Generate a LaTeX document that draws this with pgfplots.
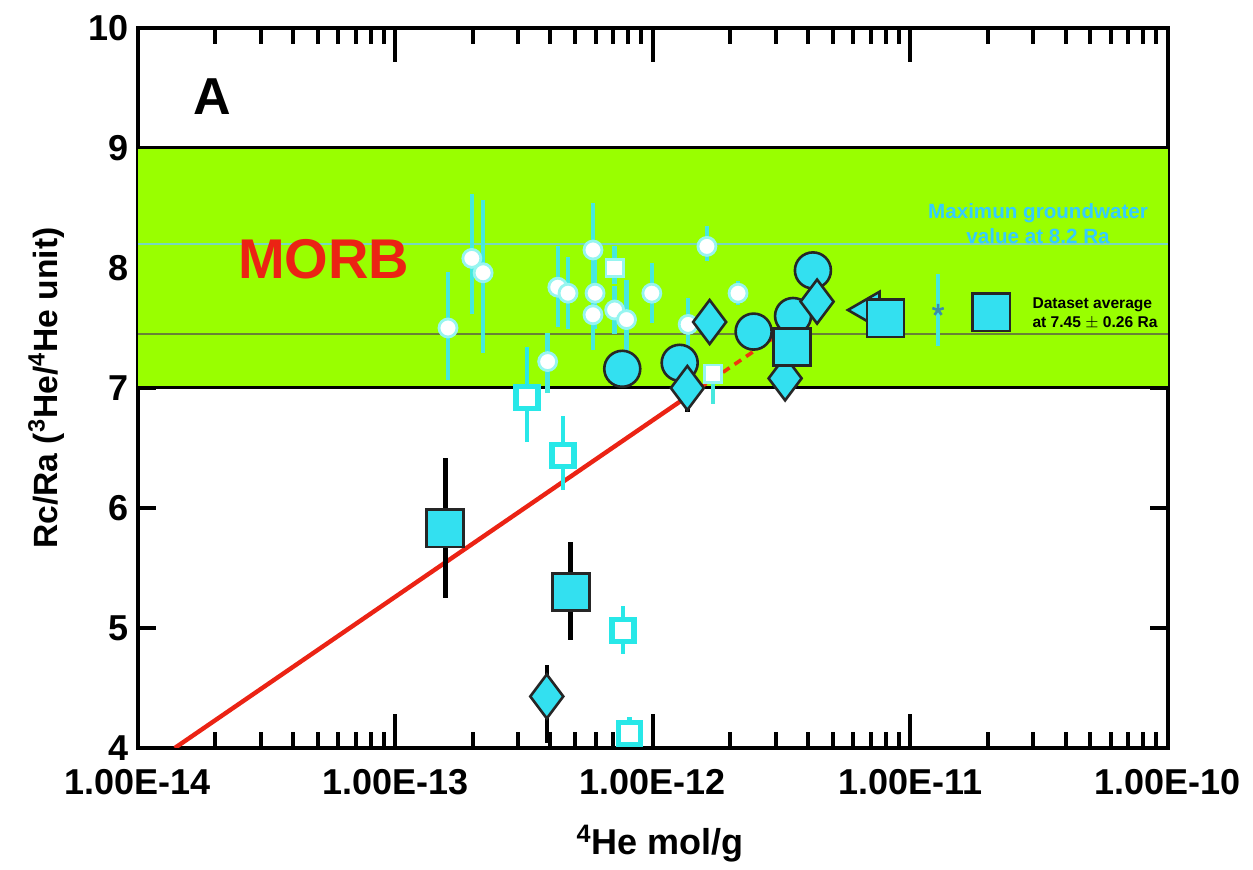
\documentclass[border=0pt]{standalone}
\usepackage{fontspec}
\setmainfont{Liberation Sans}
\usepackage{pgfplots}
\usepackage{pgfplotstable}
\pgfplotsset{compat=1.18}
\definecolor{morbgreen}{RGB}{153,255,0}
\definecolor{bigcyan}{RGB}{51,224,240}
\definecolor{errcyan}{RGB}{70,232,222}
\definecolor{glowcyan}{RGB}{150,245,240}
\definecolor{opencyan}{RGB}{40,232,232}
\definecolor{avgline}{RGB}{105,130,55}
\definecolor{gwline}{RGB}{120,215,190}
\definecolor{gwtext}{RGB}{51,204,255}
\definecolor{morbred}{RGB}{235,35,20}
\definecolor{starblue}{RGB}{60,140,170}

\pgfplotstableread{
x y ep em
1.56e-13 5.83 0.59 0.58
4.8e-13 5.30 0.42 0.40
3.47e-12 7.34 0.10 0.10
8.0e-12 7.58 0.12 0.12
2.06e-11 7.63 0.10 0.10
}\bigsquares
\pgfplotstableread{
x y ep em
7.6e-13 7.16 0.08 0.08
1.27e-12 7.21 0.08 0.08
2.46e-12 7.47 0.05 0.05
3.5e-12 7.60 0.08 0.08
4.18e-12 7.98 0.05 0.05
}\bigcircles
\pgfplotstableread{
x y ep em
3.87e-13 4.43 0.26 0.39
1.36e-12 7.00 0.10 0.20
1.66e-12 7.55 0.05 0.05
3.26e-12 7.08 0.08 0.10
4.34e-12 7.72 0.05 0.05
}\bigdiamonds
\pgfplotstableread{
x y ep em
1.60e-13 7.50 0.47 0.43
1.98e-13 8.08 0.54 0.46
2.19e-13 7.96 0.61 0.67
3.90e-13 7.22 0.24 0.26
4.27e-13 7.84 0.34 0.33
4.68e-13 7.79 0.30 0.30
5.85e-13 8.15 0.39 0.39
5.96e-13 7.79 0.30 0.30
5.85e-13 7.61 0.20 0.29
7.10e-13 7.65 0.20 0.20
7.90e-13 7.57 0.33 0.33
9.90e-13 7.79 0.25 0.25
1.37e-12 7.53 0.22 0.20
1.62e-12 8.18 0.17 0.12
2.14e-12 7.79 0.10 0.10
}\smallcircles
\pgfplotstableread{
x y ep em
7.10e-13 8.00 0.18 0.13
1.71e-12 7.12 0.08 0.25
}\smallsquares
\pgfplotstableread{
x y ep em
3.24e-13 6.92 0.42 0.37
4.47e-13 6.44 0.33 0.29
7.65e-13 4.98 0.20 0.20
8.10e-13 4.12 0.14 0.00
}\opensquares

\begin{document}
\begin{tikzpicture}
\useasboundingbox (-69pt,-61pt) rectangle (557.5pt,374pt);
\begin{axis}[
  scale only axis, width=515pt, height=360pt,
  xmode=log, xmin=1e-14, xmax=1e-10, ymin=4, ymax=10,
  xtick={1e-14,1e-13,1e-12,1e-11,1e-10},
  xticklabels={1.00E-14,1.00E-13,1.00E-12,1.00E-11,1.00E-10},
  ytick={4,5,6,7,8,9,10},
  minor y tick num=0,
  tick align=inside,
  tick pos=both,
  axis line style={line width=2.2pt},
  every tick/.style={black, line width=2pt},
  major tick length=9pt,
  minor tick length=8pt,
  xtick style={/pgfplots/major tick length=17pt},
  ticklabel style={font=\fontsize{18}{20}\selectfont\bfseries},
  /pgf/number format/assume math mode=true,
  xticklabel style={yshift=-7pt},
  yticklabel style={xshift=-1pt},
  xlabel={\textsuperscript{4}He mol/g},
  ylabel={Rc/Ra (\textsuperscript{3}He/\textsuperscript{4}He unit)},
  xlabel style={font=\fontsize{18}{20}\selectfont\bfseries, at={(axis description cs:0.507,-0.133)}, anchor=center},
  ylabel style={font=\fontsize{16.8}{19}\selectfont\bfseries, at={(axis description cs:-0.089,0.5)}, anchor=center},
  clip=true,
]
% MORB band
\addplot[draw=none, fill=morbgreen, forget plot] coordinates {(1e-14,7) (1e-10,7) (1e-10,9) (1e-14,9)} -- cycle;
\addplot[black, line width=1.5pt, forget plot] coordinates {(1e-14,7) (1e-10,7)};
\addplot[black, line width=1.5pt, forget plot] coordinates {(1e-14,9) (1e-10,9)};
\addplot[gwline, line width=0.9pt, forget plot] coordinates {(1e-14,8.2) (1e-10,8.2)};
\addplot[avgline, line width=0.9pt, forget plot] coordinates {(1e-14,7.45) (1e-10,7.45)};
% regression line
\addplot[morbred, line width=2.2pt, forget plot] coordinates {(1.39e-14,4.0) (1.52e-12,7.0)};
\addplot[morbred!80!orange, line width=1.8pt, dash pattern=on 4pt off 3pt, forget plot] coordinates {(1.52e-12,7.0) (2.95e-12,7.42)};
% small points
\addplot[only marks, mark=*, mark size=4.5pt, mark options={fill=white, draw=glowcyan, line width=1.4pt},
  error bars/.cd, y dir=both, y explicit, error mark=none,
  error bar style={errcyan, line width=2.2pt}]
  table[x=x, y=y, y error plus=ep, y error minus=em] {\smallcircles};
\addplot[only marks, mark=square*, mark size=4.3pt, mark options={fill=white, draw=glowcyan, line width=1.4pt},
  error bars/.cd, y dir=both, y explicit, error mark=none,
  error bar style={errcyan, line width=2.2pt}]
  table[x=x, y=y, y error plus=ep, y error minus=em] {\smallsquares};
\addplot[only marks, mark=square*, mark size=5.5pt, mark options={fill=white, draw=opencyan, line width=2.6pt},
  error bars/.cd, y dir=both, y explicit, error mark=none,
  error bar style={opencyan, line width=2.4pt}]
  table[x=x, y=y, y error plus=ep, y error minus=em] {\opensquares};
% small star
\addplot[only marks, mark=star, mark size=3pt, mark options={draw=starblue, line width=1.3pt},
  error bars/.cd, y dir=both, y explicit, error mark=none,
  error bar style={errcyan, line width=2pt}]
  coordinates {(1.28e-11,7.65) +- (0,0.30)};
% big symbols
\addplot[only marks, mark=*, mark size=9pt, mark options={fill=bigcyan, draw=black!85, line width=1.3pt},
  error bars/.cd, y dir=both, y explicit, error mark=none,
  error bar style={black, line width=2.2pt}]
  table[x=x, y=y, y error plus=ep, y error minus=em] {\bigcircles};
\addplot[only marks, mark=diamond*, mark size=11pt, mark options={fill=bigcyan, draw=black!85, line width=1.3pt},
  error bars/.cd, y dir=both, y explicit, error mark=none,
  error bar style={black, line width=2.2pt}]
  table[x=x, y=y, y error plus=ep, y error minus=em] {\bigdiamonds};
\addplot[only marks, mark=triangle*, mark size=10.5pt, mark options={fill=bigcyan, draw=black!85, line width=1.3pt, rotate=90}]
  coordinates {(6.9e-12,7.65)};
\addplot[only marks, mark=square*, mark size=9.3pt, mark options={fill=bigcyan, draw=black!85, line width=1.3pt},
  error bars/.cd, y dir=both, y explicit, error mark=none,
  error bar style={black, line width=2.5pt}]
  table[x=x, y=y, y error plus=ep, y error minus=em] {\bigsquares};
% annotations
\node[font=\fontsize{26}{28}\selectfont\bfseries] at (axis cs:1.94e-14,9.43) {A};
\node[font=\fontsize{28}{30}\selectfont\bfseries, text=morbred] at (axis cs:5.27e-14,8.075) {MORB};
\node[font=\fontsize{10.3}{12.5}\selectfont\bfseries, text=gwtext, align=center] at (axis cs:3.13e-11,8.37) {Maximun groundwater\\value at 8.2 Ra};
\node[font=\fontsize{7.8}{9.5}\selectfont\bfseries, align=left] at (axis cs:5.21e-11,7.62) {Dataset average\\at 7.45 $\pm$ 0.26 Ra};
\end{axis}
\end{tikzpicture}
\end{document}
